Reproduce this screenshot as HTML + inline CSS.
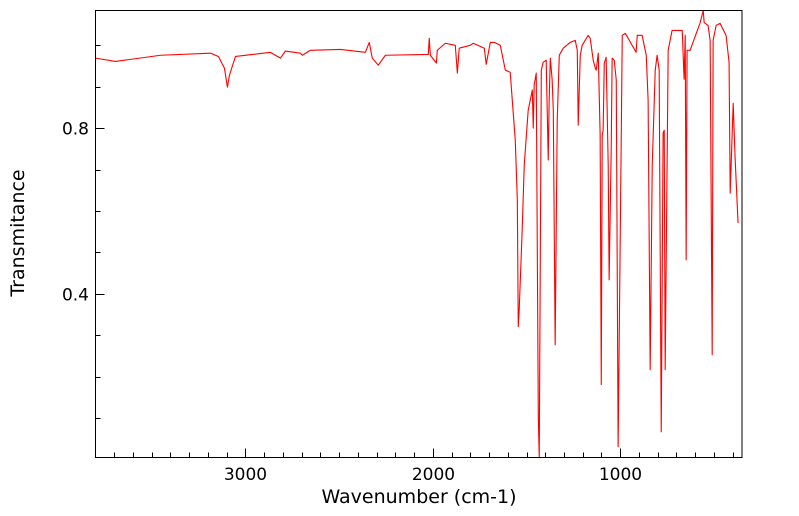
<!DOCTYPE html>
<html><head><meta charset="utf-8"><style>
html,body{margin:0;padding:0;background:#fff;}
svg{display:block;font-family:"DejaVu Sans","Liberation Sans",sans-serif;}
</style></head><body>
<svg id="chart" width="799" height="516">
<rect x="0" y="0" width="799" height="516" fill="#fff"/>
<g id="ticks"></g>
<path id="spectrum" fill="none" stroke="#ff0000" stroke-width="1.1" stroke-linejoin="round"/>
<rect x="95.5" y="10.5" width="646.5" height="447" fill="none" stroke="#000" stroke-width="1"/>
<text x="0" y="0" transform="translate(24,233) rotate(-90)" text-anchor="middle" font-size="19">Transmitance</text>
<text x="419" y="503" text-anchor="middle" font-size="19">Wavenumber (cm-1)</text>
</svg>
<script>
const wavenumbers=[3800,3693,3453,3187,3144,3112,3096,3085,3053,2867,2813,2787,2707,2696,2653,2493,2360,2339,2323,2291,2253,2024,2019,2013,1981,1976,1933,1880,1869,1859,1800,1784,1725,1715,1693,1672,1640,1613,1587,1560,1549,1544,1539,1523,1512,1491,1469,1464,1459,1448,1437,1432,1421,1411,1395,1384,1379,1373,1363,1357,1347,1336,1325,1304,1267,1240,1229,1224,1213,1203,1171,1160,1144,1133,1128,1117,1107,1101,1096,1091,1085,1075,1064,1059,1048,1043,1032,1021,1011,989,973,915,909,883,861,851,840,829,813,803,792,781,771,765,760,744,723,669,659,653,648,643,627,573,557,552,531,520,509,504,488,467,435,419,413,397,387,371,350];
const transmittance=[0.969,0.961,0.976,0.981,0.973,0.945,0.899,0.928,0.973,0.983,0.969,0.986,0.981,0.976,0.988,0.990,0.983,1.007,0.969,0.952,0.976,0.978,1.017,0.976,0.957,0.988,1.005,1.000,0.933,0.993,1.000,1.005,0.993,0.954,1.007,1.007,1.000,0.940,0.935,0.771,0.627,0.321,0.361,0.554,0.711,0.843,0.892,0.800,0.904,0.933,0.100,0.005,0.940,0.959,0.964,0.723,0.867,0.969,0.916,0.843,0.277,0.819,0.976,0.993,1.007,1.012,0.988,0.807,0.976,1.000,1.024,1.017,0.964,0.945,0.940,0.981,0.783,0.181,0.783,0.795,0.957,0.971,0.711,0.434,0.747,0.969,0.964,0.916,0.031,1.024,1.029,0.983,1.024,1.024,0.976,0.867,0.217,0.711,0.940,0.976,0.940,0.067,0.788,0.795,0.217,0.988,1.036,1.036,0.918,1.024,0.482,0.988,0.988,1.055,1.084,1.055,1.048,1.012,0.253,1.012,1.048,1.053,1.024,0.959,0.643,0.860,0.730,0.571];
const xMajorTicks=[1000,2000,3000];
const xMinorTicks=[400,500,600,700,800,900,1100,1200,1300,1400,1500,1600,1700,1800,1900,2100,2200,2300,2400,2500,2600,2700,2800,2900,3100,3200,3300,3400,3500,3600,3700];
const xTickLabels=["1000","2000","3000"];
const yMajorTicks=[0.4,0.8];
const yMinorTicks=[0.1,0.2,0.3,0.5,0.6,0.7,0.9,1.0];
const yTickLabels=["0.4","0.8"];

const X0=95.5,X1=742,Y0=457.5,Y1=10.5;
const xDomain=[3800,350],yDomain=[0.005,1.084];
function xs(v){return X0+(v-xDomain[0])/(xDomain[1]-xDomain[0])*(X1-X0);}
function ys(v){return Y0-(v-yDomain[0])/(yDomain[1]-yDomain[0])*(Y0-Y1);}
const NS="http://www.w3.org/2000/svg";
const g=document.getElementById('ticks');
function line(x1,y1,x2,y2,name){
  const l=document.createElementNS(NS,'line');
  l.setAttribute('x1',x1);l.setAttribute('y1',y1);l.setAttribute('x2',x2);l.setAttribute('y2',y2);
  l.setAttribute('stroke','#000');l.setAttribute('stroke-width','1');
  
  
  g.appendChild(l);
}
function label(x,y,t,anchor,name){
  const e=document.createElementNS(NS,'text');
  e.setAttribute('x',x);e.setAttribute('y',y);e.setAttribute('text-anchor',anchor);e.setAttribute('font-size','17');
  e.textContent=t;
  
  
  g.appendChild(e);
}
xMajorTicks.forEach((v,i)=>{const x=Math.round(xs(v))+0.5;line(x,Y0,x,Y0-9,'x-major-tick');label(x,480,xTickLabels[i],'middle','x-tick-label');});
xMinorTicks.forEach(v=>{const x=Math.round(xs(v))+0.5;line(x,Y0,x,Y0-5,'x-minor-tick');});
yMajorTicks.forEach((v,i)=>{const y=Math.round(ys(v))+0.5;line(X0,y,X0+9,y,'y-major-tick');label(89,y+6,yTickLabels[i],'end','y-tick-label');});
yMinorTicks.forEach(v=>{const y=Math.round(ys(v))+0.5;line(X0,y,X0+5,y,'y-minor-tick');});
let d='';
wavenumbers.forEach((w,i)=>{d+=(i?'L':'M')+xs(w).toFixed(2)+','+ys(transmittance[i]).toFixed(2);});
document.getElementById('spectrum').setAttribute('d',d);
</script>
</body></html>
